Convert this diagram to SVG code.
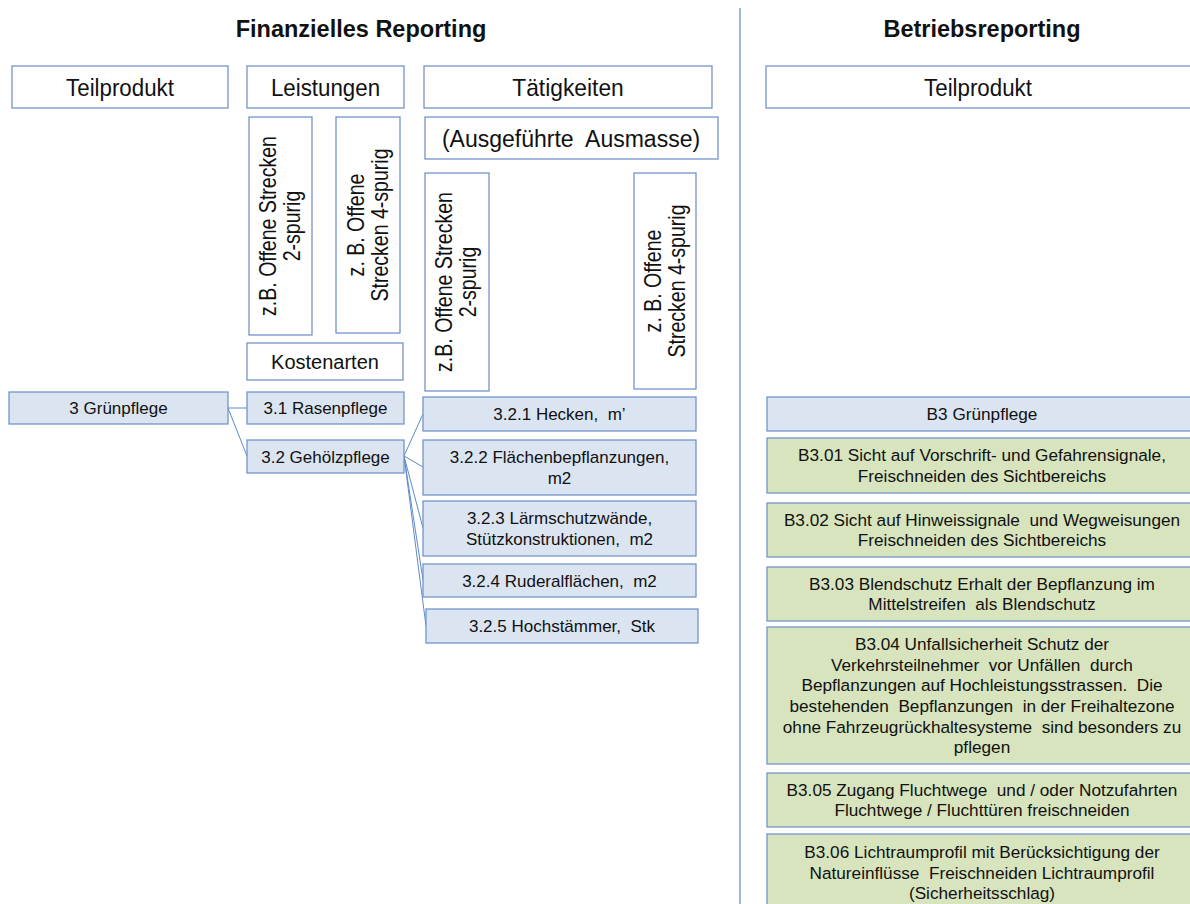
<svg xmlns="http://www.w3.org/2000/svg" width="1190" height="904" viewBox="0 0 1190 904" xml:space="preserve">
<style>
text{font-family:"Liberation Sans",Arial,sans-serif;fill:#111;text-anchor:middle;white-space:pre}
.title{font-size:23.5px;font-weight:bold}
.hdr{font-size:24px}
.vt{font-size:23px}
.nt{font-size:17px}
.gt{font-size:17.2px}
.frame{fill:#fff;stroke:#7394cb;stroke-width:1.3}
.blue{fill:#dbe4f1;stroke:#7394cb;stroke-width:1.3}
.green{fill:#d7e4bd;stroke:#7394cb;stroke-width:1.3}
.con{stroke:#5f8ac8;stroke-width:1;fill:none}
</style>
<line x1="740" y1="8" x2="740" y2="904" stroke="#5f8ac8" stroke-width="1.2"/>
<text class="title" x="361" y="37">Finanzielles Reporting</text>
<text class="title" x="982" y="37">Betriebsreporting</text>

<g id="hdr-teilprodukt"><rect class="frame" x="12" y="66" width="216" height="42"/><g transform="translate(120,96) scale(0.93,1)"><text class="hdr" x="0" y="0">Teilprodukt</text></g></g>
<g id="hdr-leistungen"><rect class="frame" x="247" y="66" width="157" height="42"/><g transform="translate(325.5,96) scale(0.93,1)"><text class="hdr" x="0" y="0">Leistungen</text></g></g>
<g id="hdr-taetigkeiten"><rect class="frame" x="424" y="66" width="288" height="42"/><g transform="translate(568,96) scale(0.95,1)"><text class="hdr" x="0" y="0">Tätigkeiten</text></g></g>
<g id="hdr-teilprodukt-b"><rect class="frame" x="766" y="66" width="430" height="42"/><g transform="translate(978,96) scale(0.93,1)"><text class="hdr" x="0" y="0">Teilprodukt</text></g></g>
<g id="hdr-ausmasse"><rect class="frame" x="425" y="117" width="293" height="42"/><text x="571" y="146.5" style="font-size:23px">(Ausgeführte  Ausmasse)</text></g>

<g id="v1"><rect class="frame" x="249" y="117" width="63" height="218"/>
<g transform="translate(280.5,226) rotate(-90) scale(0.85,1)"><text class="vt" x="0" y="-5">z.B. Offene Strecken</text><text class="vt" x="0" y="19.5">2-spurig</text></g></g>
<g id="v2"><rect class="frame" x="336" y="117" width="64" height="216"/>
<g transform="translate(368,225) rotate(-90) scale(0.85,1)"><text class="vt" x="0" y="-4">z. B. Offene</text><text class="vt" x="0" y="20">Strecken 4-spurig</text></g></g>
<g id="v3"><rect class="frame" x="425" y="173" width="64" height="218"/>
<g transform="translate(457,282) rotate(-90) scale(0.85,1)"><text class="vt" x="0" y="-5">z.B. Offene Strecken</text><text class="vt" x="0" y="19">2-spurig</text></g></g>
<g id="v4"><rect class="frame" x="634" y="173" width="62" height="216"/>
<g transform="translate(665,281) rotate(-90) scale(0.85,1)"><text class="vt" x="0" y="-4">z. B. Offene</text><text class="vt" x="0" y="20">Strecken 4-spurig</text></g></g>

<g id="kostenarten"><rect class="frame" x="247" y="343" width="156" height="37"/><text x="325" y="368.5" style="font-size:20px">Kostenarten</text></g>

<g id="connectors">
<line class="con" x1="228" y1="408" x2="247" y2="408"/>
<line class="con" x1="228" y1="408" x2="247" y2="456"/>
<line class="con" x1="404" y1="456" x2="423" y2="414"/>
<line class="con" x1="404" y1="456" x2="423" y2="467"/>
<line class="con" x1="404" y1="456" x2="423" y2="528"/>
<line class="con" x1="404" y1="456" x2="423" y2="580"/>
<line class="con" x1="404" y1="456" x2="426" y2="626"/>
</g>

<g id="n3"><rect class="blue" x="9" y="392" width="219" height="32"/><text class="nt" x="118.5" y="414">3 Grünpflege</text></g>
<g id="n31"><rect class="blue" x="247" y="392" width="157" height="32"/><text class="nt" x="325.5" y="414">3.1 Rasenpflege</text></g>
<g id="n32"><rect class="blue" x="247" y="440" width="157" height="33"/><text class="nt" x="325.5" y="462.5">3.2 Gehölzpflege</text></g>
<g id="n321"><rect class="blue" x="423" y="397" width="273" height="34"/><text class="nt" x="559.5" y="420">3.2.1 Hecken,  m’</text></g>
<g id="n322"><rect class="blue" x="423" y="440" width="273" height="55"/><text class="nt" x="559.5" y="463">3.2.2 Flächenbepflanzungen,</text><text class="nt" x="559.5" y="484">m2</text></g>
<g id="n323"><rect class="blue" x="423" y="501" width="273" height="55"/><text class="nt" x="559.5" y="524">3.2.3 Lärmschutzwände,</text><text class="nt" x="559.5" y="545">Stützkonstruktionen,  m2</text></g>
<g id="n324"><rect class="blue" x="423" y="564" width="273" height="33"/><text class="nt" x="559.5" y="587">3.2.4 Ruderalflächen,  m2</text></g>
<g id="n325"><rect class="blue" x="426" y="609" width="272" height="34"/><text class="nt" x="562" y="632">3.2.5 Hochstämmer,  Stk</text></g>

<g id="b3"><rect class="blue" x="767" y="397" width="430" height="34"/><text class="gt" x="982" y="420">B3 Grünpflege</text></g>
<g id="b301"><rect class="green" x="767" y="438" width="430" height="55"/><text class="gt" x="982" y="461">B3.01 Sicht auf Vorschrift- und Gefahrensignale,</text><text class="gt" x="982" y="482">Freischneiden des Sichtbereichs</text></g>
<g id="b302"><rect class="green" x="767" y="503" width="430" height="54"/><text class="gt" x="982" y="525.5">B3.02 Sicht auf Hinweissignale  und Wegweisungen</text><text class="gt" x="982" y="546">Freischneiden des Sichtbereichs</text></g>
<g id="b303"><rect class="green" x="767" y="567" width="430" height="54"/><text class="gt" x="982" y="589.5">B3.03 Blendschutz Erhalt der Bepflanzung im</text><text class="gt" x="982" y="610">Mittelstreifen  als Blendschutz</text></g>
<g id="b304"><rect class="green" x="767" y="627" width="430" height="137"/>
<text class="gt" x="982" y="650">B3.04 Unfallsicherheit Schutz der</text>
<text class="gt" x="982" y="670.5">Verkehrsteilnehmer  vor Unfällen  durch</text>
<text class="gt" x="982" y="691">Bepflanzungen auf Hochleistungsstrassen.  Die</text>
<text class="gt" x="982" y="712">bestehenden  Bepflanzungen  in der Freihaltezone</text>
<text class="gt" x="982" y="732.5">ohne Fahrzeugrückhaltesysteme  sind besonders zu</text>
<text class="gt" x="982" y="753">pflegen</text></g>
<g id="b305"><rect class="green" x="767" y="773" width="430" height="54"/><text class="gt" x="982" y="795.5">B3.05 Zugang Fluchtwege  und / oder Notzufahrten</text><text class="gt" x="982" y="816">Fluchtwege / Fluchttüren freischneiden</text></g>
<g id="b306"><rect class="green" x="767" y="834" width="430" height="80"/>
<text class="gt" x="982" y="858">B3.06 Lichtraumprofil mit Berücksichtigung der</text>
<text class="gt" x="982" y="878.5">Natureinflüsse  Freischneiden Lichtraumprofil</text>
<text class="gt" x="982" y="899">(Sicherheitsschlag)</text></g>
</svg>
